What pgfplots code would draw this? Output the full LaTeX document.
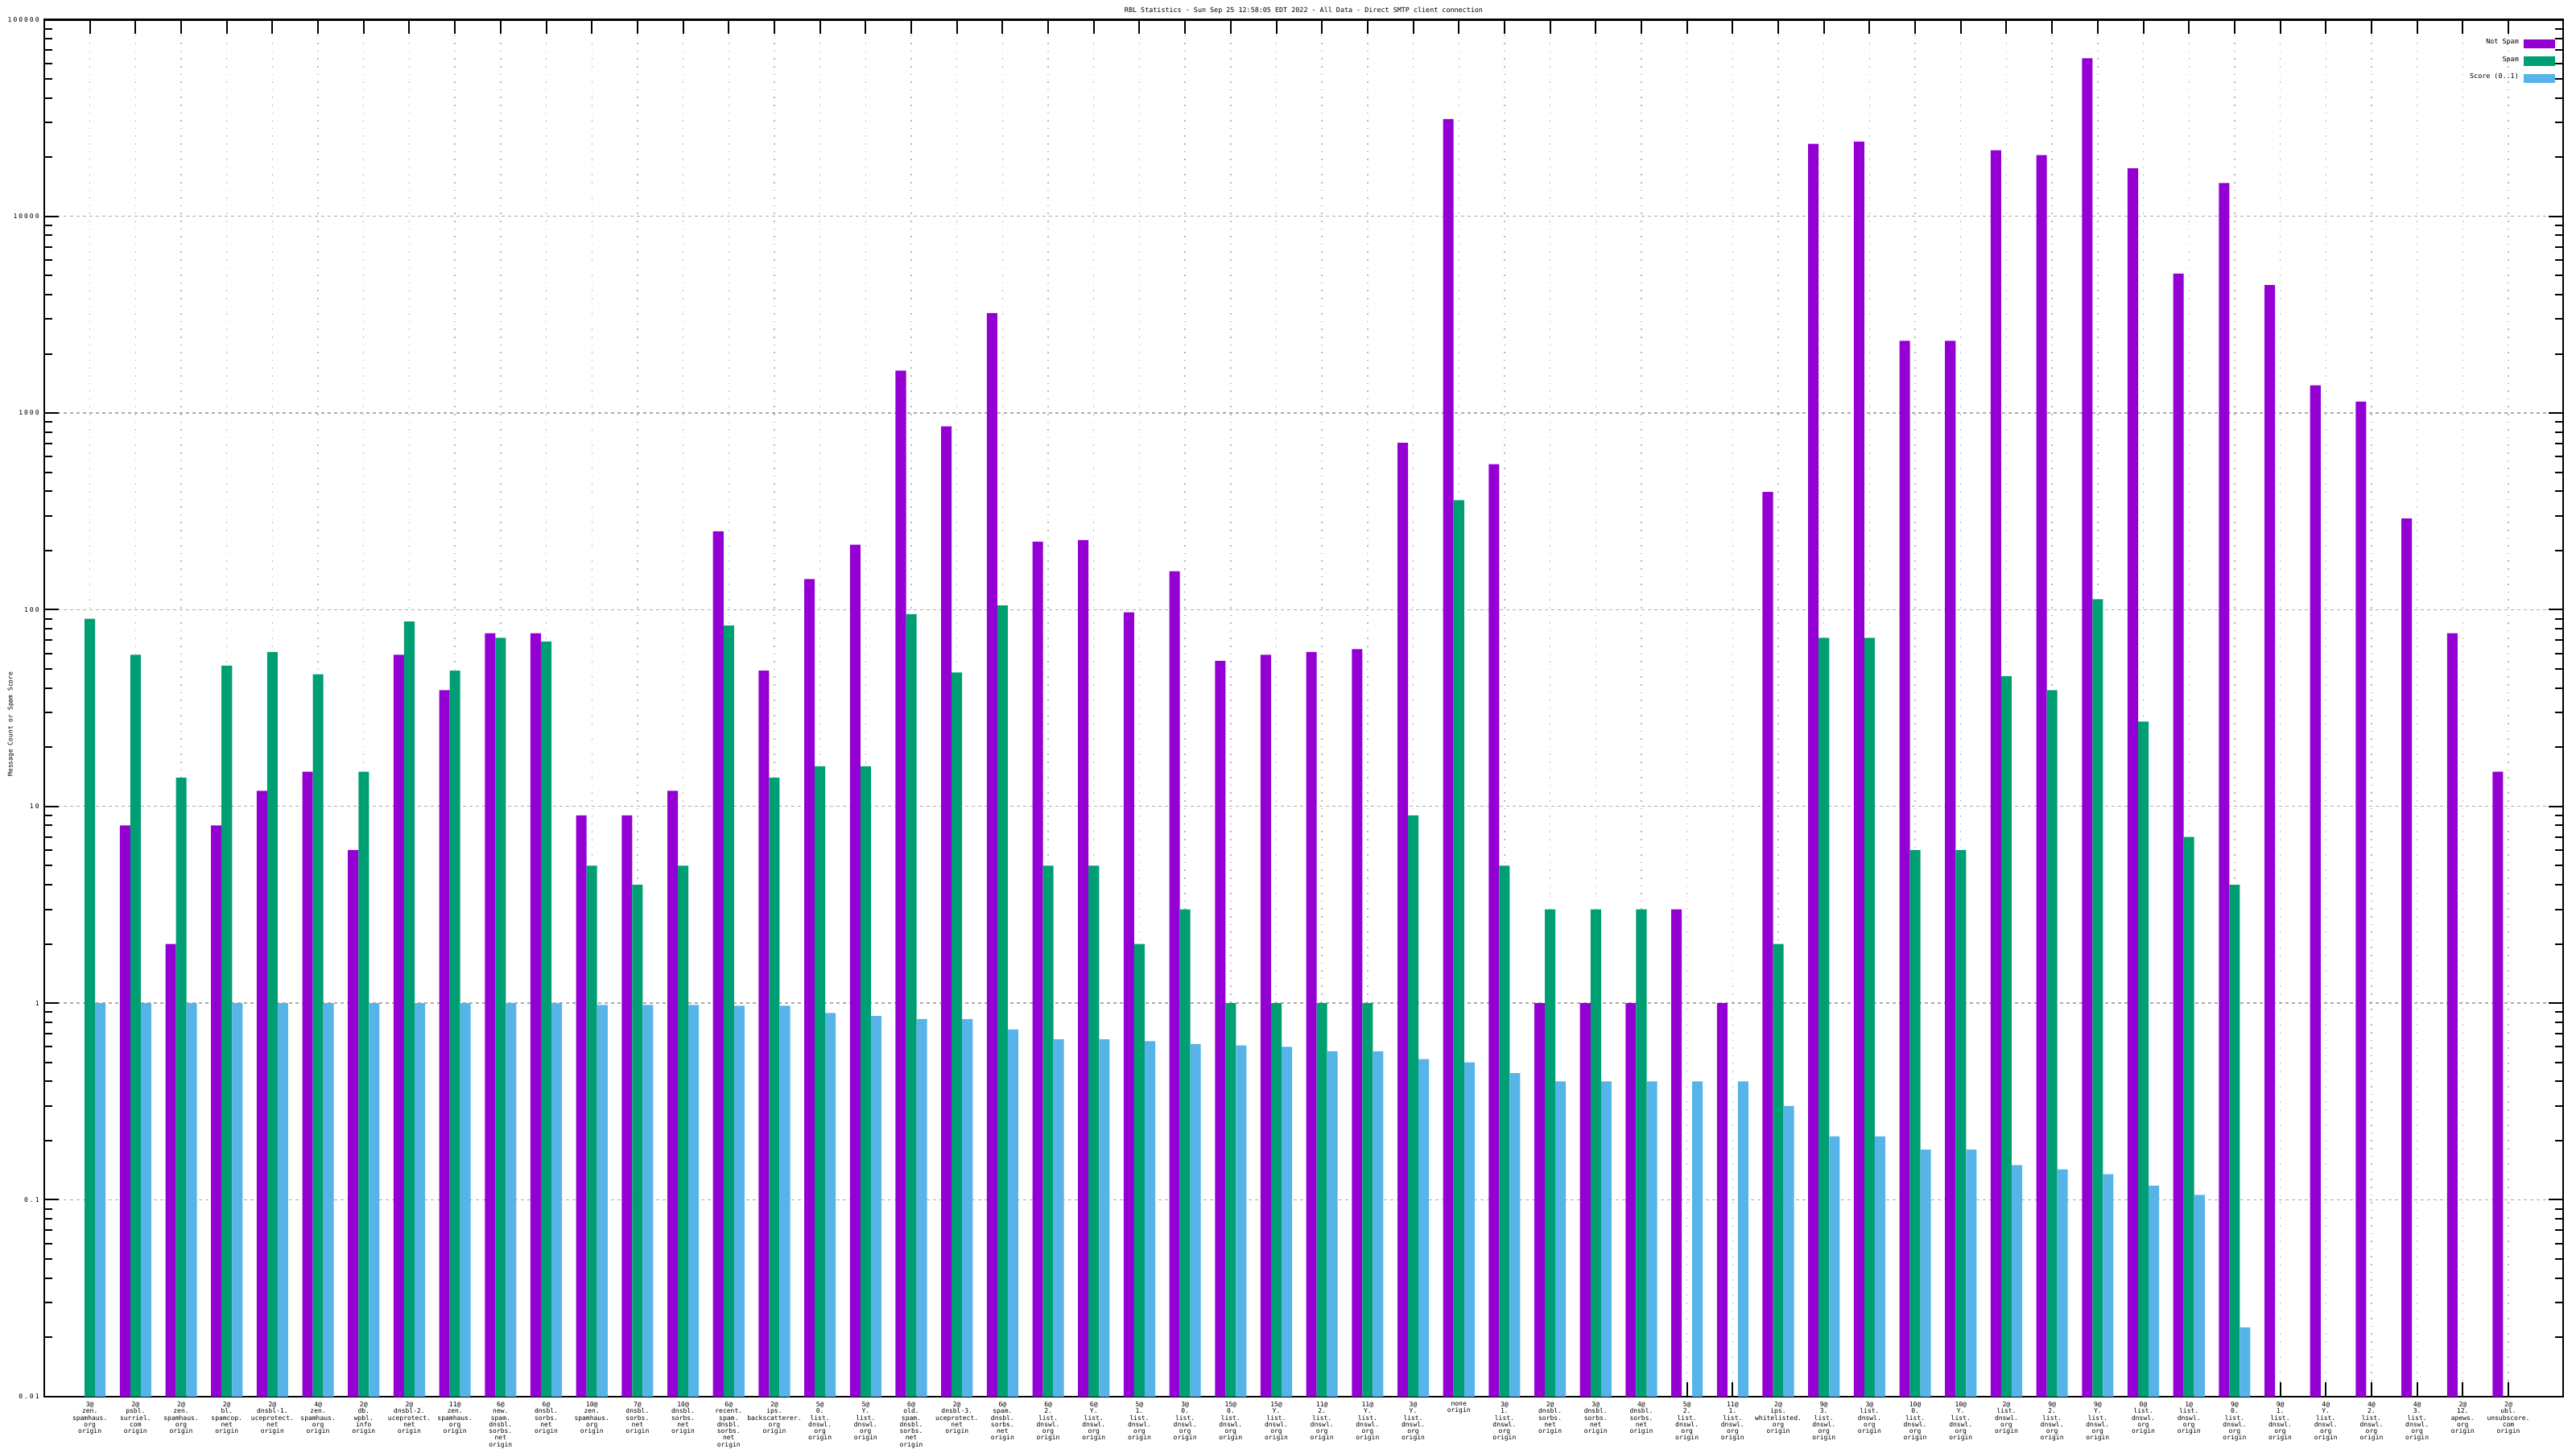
\documentclass[border=0pt]{standalone}
\usepackage{pgfplots}
\pgfplotsset{compat=1.18}
\usepackage{pgfplotstable}
\usepackage{fontspec}
\setmainfont{DejaVu Sans Mono}
\newfontfamily\yfont[LetterSpace=25]{DejaVu Sans Mono}

\definecolor{notspam}{HTML}{9400D3}
\definecolor{spam}{HTML}{009E73}
\definecolor{score}{HTML}{56B4E9}

% idx  not spam  spam  score
\pgfplotstableread{
idx ns sp sc
0 nan 90 1
1 8 59 1
2 2 14 1
3 8 52 1
4 12 61 1
5 15 47 1
6 6 15 1
7 59 87 1
8 39 49 1
9 76 72 1
10 76 69 1
11 9 5 0.98
12 9 4 0.98
13 12 5 0.98
14 250 83 0.97
15 49 14 0.97
16 143 16 0.89
17 214 16 0.86
18 1645 95 0.83
19 855 48 0.83
20 3227 105 0.735
21 222 5 0.655
22 226 5 0.655
23 97 2 0.64
24 157 3 0.62
25 55 1 0.61
26 59 1 0.60
27 61 1 0.57
28 63 1 0.57
29 706 9 0.52
30 31250 360 0.50
31 550 5 0.44
32 1 3 0.40
33 1 3 0.40
34 1 3 0.40
35 3 nan 0.40
36 1 nan 0.40
37 397 2 0.30
38 23400 72 0.21
39 24000 72 0.21
40 2327 6 0.18
41 2327 6 0.18
42 21700 46 0.15
43 20470 39 0.143
44 63680 113 0.135
45 17540 27 0.118
46 5117 7 0.106
47 14760 4 0.0225
48 4477 nan nan
49 1384 nan nan
50 1142 nan nan
51 291 nan nan
52 76 nan nan
53 15 nan nan
}\rbl

\begin{document}
\begin{tikzpicture}
\begin{axis}[
    scale only axis,
    width=782.25pt, height=427.6pt,
    ymode=log,
    log origin=infty,
    ymin=0.01, ymax=100000,
    xmin=-1, xmax=54.2,
    enlarge x limits=false,
    ybar=0pt,
    bar width=0.23,
    every axis plot post/.append style={
        legend image code/.code={\fill[#1,draw=none] (0pt,-1.4pt) rectangle (9.75pt,1.4pt);}},
    axis line style={line width=0.6pt},
    tick style={black, line width=0.5pt},
    major tick length=4.5pt,
    minor tick length=2.4pt,
    tick align=inside,
    ytick={0.01,0.1,1,10,100,1000,10000,100000},
    yticklabels={0.01,0.1,1,10,100,1000,10000,100000},
    yticklabel style={font=\yfont\fontsize{2}{2.4}\selectfont, inner sep=0pt, xshift=-1.4pt},
    xtick={0,...,53},
    xticklabels={
{3@\\zen.\\spamhaus.\\org\\origin},
{2@\\psbl.\\surriel.\\com\\origin},
{2@\\zen.\\spamhaus.\\org\\origin},
{2@\\bl.\\spamcop.\\net\\origin},
{2@\\dnsbl-1.\\uceprotect.\\net\\origin},
{4@\\zen.\\spamhaus.\\org\\origin},
{2@\\db.\\wpbl.\\info\\origin},
{2@\\dnsbl-2.\\uceprotect.\\net\\origin},
{11@\\zen.\\spamhaus.\\org\\origin},
{6@\\new.\\spam.\\dnsbl.\\sorbs.\\net\\origin},
{6@\\dnsbl.\\sorbs.\\net\\origin},
{10@\\zen.\\spamhaus.\\org\\origin},
{7@\\dnsbl.\\sorbs.\\net\\origin},
{10@\\dnsbl.\\sorbs.\\net\\origin},
{6@\\recent.\\spam.\\dnsbl.\\sorbs.\\net\\origin},
{2@\\ips.\\backscatterer.\\org\\origin},
{5@\\0.\\list.\\dnswl.\\org\\origin},
{5@\\Y.\\list.\\dnswl.\\org\\origin},
{6@\\old.\\spam.\\dnsbl.\\sorbs.\\net\\origin},
{2@\\dnsbl-3.\\uceprotect.\\net\\origin},
{6@\\spam.\\dnsbl.\\sorbs.\\net\\origin},
{6@\\2.\\list.\\dnswl.\\org\\origin},
{6@\\Y.\\list.\\dnswl.\\org\\origin},
{5@\\1.\\list.\\dnswl.\\org\\origin},
{3@\\0.\\list.\\dnswl.\\org\\origin},
{15@\\0.\\list.\\dnswl.\\org\\origin},
{15@\\Y.\\list.\\dnswl.\\org\\origin},
{11@\\2.\\list.\\dnswl.\\org\\origin},
{11@\\Y.\\list.\\dnswl.\\org\\origin},
{3@\\Y.\\list.\\dnswl.\\org\\origin},
{none\\origin},
{3@\\1.\\list.\\dnswl.\\org\\origin},
{2@\\dnsbl.\\sorbs.\\net\\origin},
{3@\\dnsbl.\\sorbs.\\net\\origin},
{4@\\dnsbl.\\sorbs.\\net\\origin},
{5@\\2.\\list.\\dnswl.\\org\\origin},
{11@\\1.\\list.\\dnswl.\\org\\origin},
{2@\\ips.\\whitelisted.\\org\\origin},
{9@\\3.\\list.\\dnswl.\\org\\origin},
{3@\\list.\\dnswl.\\org\\origin},
{10@\\0.\\list.\\dnswl.\\org\\origin},
{10@\\Y.\\list.\\dnswl.\\org\\origin},
{2@\\list.\\dnswl.\\org\\origin},
{9@\\2.\\list.\\dnswl.\\org\\origin},
{9@\\Y.\\list.\\dnswl.\\org\\origin},
{0@\\list.\\dnswl.\\org\\origin},
{1@\\list.\\dnswl.\\org\\origin},
{9@\\0.\\list.\\dnswl.\\org\\origin},
{9@\\1.\\list.\\dnswl.\\org\\origin},
{4@\\Y.\\list.\\dnswl.\\org\\origin},
{4@\\2.\\list.\\dnswl.\\org\\origin},
{4@\\3.\\list.\\dnswl.\\org\\origin},
{2@\\12.\\apews.\\org\\origin},
{2@\\ubl.\\unsubscore.\\com\\origin}},
    xticklabel style={font=\fontsize{2}{2.07}\selectfont, align=center, inner sep=0pt, yshift=-1.5pt},
    xmajorgrids, ymajorgrids,
    x grid style={dotted, gray!55, line width=0.35pt},
    y grid style={gray!65, line width=0.35pt, dash pattern=on 1pt off 1pt},
    every axis title shift=0pt,
    title={RBL Statistics - Sun Sep 25 12:58:05 EDT 2022 - All Data - Direct SMTP client connection},
    title style={font=\fontsize{2.1}{2.5}\selectfont, inner sep=0pt, at={(0.5,1)}, anchor=south, yshift=1.6pt},
    ylabel={Message Count or Spam Score},
    ylabel style={font=\fontsize{2}{2.4}\selectfont, at={(axis description cs:0,0.5)}, anchor=center, xshift=-5pt, yshift=10.4pt},
    legend plot pos=right,
    legend cell align=right,
    legend style={draw=none, fill=none, at={(1,1)}, anchor=north east,
        inner sep=0pt, xshift=-2.25pt, yshift=-5.3pt, row sep=1.3pt,
        /tikz/column sep=1.1pt,
        font=\fontsize{2.1}{2.5}\selectfont,
        nodes={inner sep=0.5pt}},
]
\addplot[fill=notspam, draw=none] table[x=idx, y=ns] {\rbl};
\addlegendentry{Not Spam}
\addplot[fill=spam, draw=none] table[x=idx, y=sp] {\rbl};
\addlegendentry{Spam}
\addplot[fill=score, draw=none] table[x=idx, y=sc] {\rbl};
\addlegendentry{Score (0..1)}
\coordinate (bl) at (rel axis cs:0,0);
\coordinate (tr) at (rel axis cs:1,1);
\end{axis}
\pgfresetboundingbox
\path[use as bounding box] ([xshift=-13.75pt,yshift=-16.25pt]bl) rectangle ([xshift=4pt,yshift=6.1pt]tr);
\end{tikzpicture}
\end{document}
